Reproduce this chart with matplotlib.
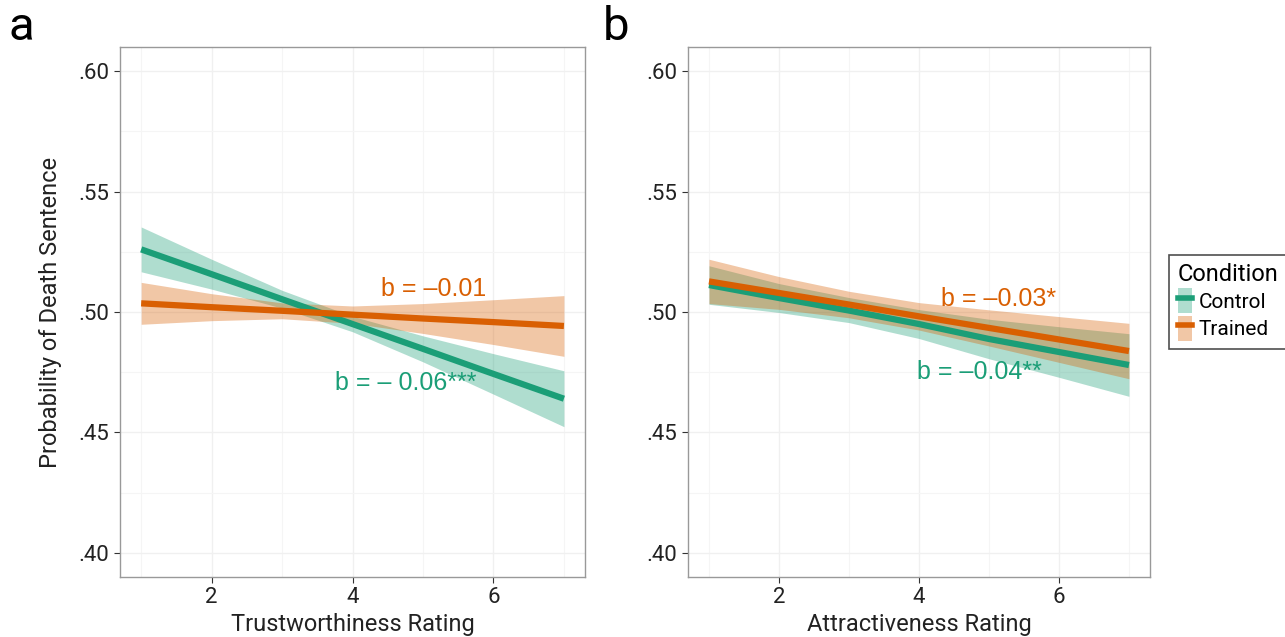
import matplotlib
matplotlib.use("Agg")
import matplotlib.pyplot as plt
from matplotlib.patches import Patch
from matplotlib.lines import Line2D
from matplotlib.ticker import FixedLocator

plt.rcParams['font.family'] = ['Liberation Sans Narrow', 'Roboto', 'DejaVu Sans']

# rating values where the fitted curves were read
ratings = [1, 2, 3, 4, 5, 6, 7]

# panel a: trustworthiness
trust_control_fit = [0.5260, 0.5157, 0.5053, 0.4950, 0.4847, 0.4743, 0.4640]
trust_control_lo = [0.5167, 0.5095, 0.5016, 0.4918, 0.4793, 0.4659, 0.4524]
trust_control_hi = [0.5353, 0.5219, 0.5090, 0.4982, 0.4901, 0.4827, 0.4756]
trust_trained_fit = [0.5036, 0.5020, 0.5005, 0.4989, 0.4973, 0.4958, 0.4942]
trust_trained_lo = [0.4949, 0.4964, 0.4972, 0.4953, 0.4911, 0.4865, 0.4816]
trust_trained_hi = [0.5123, 0.5076, 0.5038, 0.5025, 0.5035, 0.5051, 0.5068]

# panel b: attractiveness
attr_control_fit = [0.5112, 0.5058, 0.5006, 0.4950, 0.4888, 0.4834, 0.4780]
attr_control_lo = [0.5032, 0.4998, 0.4956, 0.4890, 0.4806, 0.4729, 0.4650]
attr_control_hi = [0.5192, 0.5118, 0.5060, 0.5010, 0.4970, 0.4939, 0.4910]
attr_trained_fit = [0.5127, 0.5079, 0.5031, 0.4982, 0.4934, 0.4886, 0.4838]
attr_trained_lo = [0.5035, 0.5011, 0.4976, 0.4925, 0.4859, 0.4791, 0.4723]
attr_trained_hi = [0.5219, 0.5147, 0.5086, 0.5039, 0.5009, 0.4981, 0.4953]

y_ticks = [0.40, 0.45, 0.50, 0.55, 0.60]
y_labels = ['.40', '.45', '.50', '.55', '.60']
x_ticks = [2, 4, 6]

green = '#1b9e77'
orange = '#d95f02'


def draw_panel(ax, ctrl, trained, xlabel, notes):
    # control first, trained drawn over it
    for (fit, lo, hi), col in ((ctrl, green), (trained, orange)):
        ax.fill_between(ratings, lo, hi, color=col, alpha=0.35, linewidth=0)
        ax.plot(ratings, fit, color=col, linewidth=4.5, solid_capstyle='butt')

    ax.set_xlim(0.7, 7.3)
    ax.set_ylim(0.39, 0.61)
    ax.xaxis.set_major_locator(FixedLocator(x_ticks))
    ax.xaxis.set_minor_locator(FixedLocator([1, 3, 5, 7]))
    ax.yaxis.set_major_locator(FixedLocator(y_ticks))
    ax.yaxis.set_minor_locator(FixedLocator([0.425, 0.475, 0.525, 0.575]))
    ax.set_yticklabels(y_labels)
    ax.grid(which='major', color='#f0f0f0', linewidth=1.0)
    ax.grid(which='minor', color='#f5f5f5', linewidth=0.8)
    ax.set_axisbelow(True)
    ax.tick_params(which='major', length=4, width=0.8, color='#333333',
                   labelsize=16, labelcolor='#222222')
    ax.tick_params(which='minor', length=0)
    for s in ax.spines.values():
        s.set_color('#999999')
        s.set_linewidth(1.0)
    ax.set_xlabel(xlabel, fontsize=17, color='#222222', labelpad=3)

    for txt, x, y, col in notes:
        ax.text(x, y, txt, color=col, fontsize=18, ha='center', va='center',
                family=['Liberation Sans', 'DejaVu Sans'])


fig = plt.figure(figsize=(12.85, 6.37), dpi=100)
ax1 = fig.add_axes([0.0934, 0.0942, 0.3619, 0.832])
ax2 = fig.add_axes([0.5354, 0.0942, 0.3595, 0.832])

draw_panel(ax1,
           (trust_control_fit, trust_control_lo, trust_control_hi),
           (trust_trained_fit, trust_trained_lo, trust_trained_hi),
           'Trustworthiness Rating',
           [('b = \u20130.01', 5.15, 0.5095, orange),
            ('b = \u2013 0.06***', 4.75, 0.4705, green)])
draw_panel(ax2,
           (attr_control_fit, attr_control_lo, attr_control_hi),
           (attr_trained_fit, attr_trained_lo, attr_trained_hi),
           'Attractiveness Rating',
           [('b = \u20130.03*', 5.14, 0.5055, orange),
            ('b = \u20130.04**', 4.86, 0.4752, green)])

ax1.set_ylabel('Probability of Death Sentence', fontsize=17, color='#222222', labelpad=12)

fig.text(0.007, 0.957, 'a', fontsize=34, va='center', ha='left')
fig.text(0.469, 0.957, 'b', fontsize=34, va='center', ha='left')

handles = [
    (Patch(facecolor=green, alpha=0.35, edgecolor='none'),
     Line2D([], [], color=green, linewidth=4)),
    (Patch(facecolor=orange, alpha=0.35, edgecolor='none'),
     Line2D([], [], color=orange, linewidth=4)),
]
leg = fig.legend(handles, ['Control', 'Trained'], title='Condition',
                 loc='center left', bbox_to_anchor=(0.910, 0.526),
                 fontsize=15, title_fontsize=17, frameon=True, fancybox=False,
                 handlelength=0.7, handleheight=1.5, handletextpad=0.3,
                 labelspacing=0.1, borderpad=0.4, borderaxespad=0.0)
leg.get_frame().set_edgecolor('#222222')
leg.get_frame().set_linewidth(1.2)
leg._legend_box.align = 'left'

fig.savefig('out.png', dpi=100)
